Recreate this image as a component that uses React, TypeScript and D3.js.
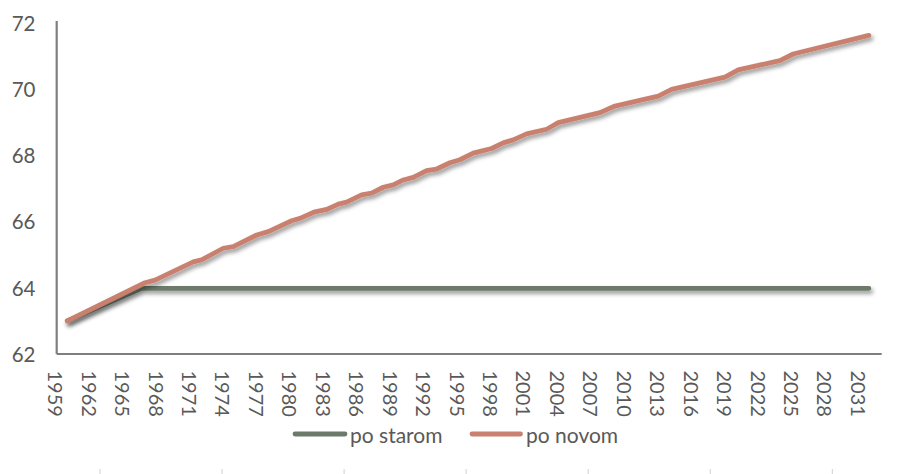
import React from "react";
import * as d3 from "d3";

const yTicks = [62, 64, 66, 68, 70, 72];
const xTickYears = [1959, 1962, 1965, 1968, 1971, 1974, 1977, 1980, 1983, 1986, 1989, 1992, 1995, 1998, 2001, 2004, 2007, 2010, 2013, 2016, 2019, 2022, 2025, 2028, 2031];

const seriesNames = ["po starom", "po novom"];
const seriesColors = ["#6D7A6B", "#C9806E"];

const yearsStarom = [1959.95, 1966.62, 2031.85];
const valuesStarom = [63.0, 63.98, 63.98];

const yearsNovom = [
  1959.95, 1966.92, 1967.82, 1971.25, 1972.0, 1973.94, 1974.84, 1976.94, 1977.98,
  1980.08, 1980.82, 1982.17, 1983.22, 1984.26, 1985.01, 1986.35, 1987.25, 1988.29,
  1989.19, 1990.09, 1990.98, 1992.18, 1993.08, 1994.27, 1995.17, 1996.36, 1998.01,
  1999.05, 1999.95, 2001.15, 2002.95, 2003.99, 2007.73, 2009.08, 2012.96, 2014.16,
  2018.94, 2020.13, 2023.87, 2025.06, 2031.85,
];
const valuesNovom = [
  63.0, 64.15, 64.23, 64.78, 64.84, 65.19, 65.24, 65.59, 65.69,
  66.02, 66.09, 66.29, 66.36, 66.52, 66.58, 66.8, 66.85, 67.03,
  67.1, 67.25, 67.33, 67.53, 67.58, 67.77, 67.86, 68.06, 68.2,
  68.37, 68.46, 68.64, 68.78, 68.98, 69.28, 69.48, 69.78, 69.98,
  70.35, 70.57, 70.85, 71.05, 71.61,
];

const W = 908;
const H = 474;
const left = 56.7;
const right = 881.7;
const top = 22.5;
const bottom = 354;

export default function App() {
  const x = d3.scaleLinear().domain([1959, 2033]).range([left, right]);
  const y = d3.scaleLinear().domain([62, 72]).range([bottom, top]);

  const line = d3
    .line<[number, number]>()
    .x((d) => x(d[0]))
    .y((d) => y(d[1]))
    .curve(d3.curveLinear);

  const starom: [number, number][] = yearsStarom.map((t, i) => [t, valuesStarom[i]]);
  const novom: [number, number][] = yearsNovom.map((t, i) => [t, valuesNovom[i]]);

  const font = "Lato, 'Open Sans', sans-serif";
  const textColor = "#595959";
  const axisColor = "#7F7F7F";

  const decoTicks = d3.range(7).map((i) => 100 + i * 122.05);

  return (
    <svg
      width={W}
      height={H}
      style={{ position: "absolute", left: 0, top: 0, background: "#fff" }}
    >
      <defs>
        <filter id="shadow" x="-5%" y="-20%" width="110%" height="160%">
          <feDropShadow dx="2" dy="3" stdDeviation="2" floodColor="#000" floodOpacity="0.42" />
        </filter>
      </defs>
      <rect width={W} height={H} fill="#fff" />

      {/* axes */}
      <line x1={left} x2={left} y1={21} y2={bottom} stroke={axisColor} strokeWidth={2.2} />
      <line x1={left} x2={right} y1={bottom} y2={bottom} stroke={axisColor} strokeWidth={2.2} />

      {/* y labels */}
      {yTicks.map((v) => (
        <text
          key={v}
          x={35.5}
          y={y(v)}
          textAnchor="end"
          dominantBaseline="central"
          fontFamily={font}
          fontSize={20.5}
          fill={textColor}
        >
          {v}
        </text>
      ))}

      {/* x labels */}
      {xTickYears.map((yr) => (
        <text
          key={yr}
          transform={`translate(${x(yr) - 0.5},${370.5}) rotate(90)`}
          textAnchor="start"
          dominantBaseline="central"
          fontFamily={font}
          fontSize={20}
          fill={textColor}
        >
          {yr}
        </text>
      ))}

      {/* series */}
      <path
        d={line(starom) || ""}
        fill="none"
        stroke={seriesColors[0]}
        strokeWidth={4.8}
        strokeLinecap="round"
        strokeLinejoin="round"
        filter="url(#shadow)"
      />
      <path
        d={line(novom) || ""}
        fill="none"
        stroke={seriesColors[1]}
        strokeWidth={4.8}
        strokeLinecap="round"
        strokeLinejoin="round"
        filter="url(#shadow)"
      />

      {/* legend */}
      <line x1={295} x2={345} y1={434} y2={434} stroke={seriesColors[0]} strokeWidth={4.8} strokeLinecap="round" />
      <text x={350} y={434} dominantBaseline="central" fontFamily={font} fontSize={21} fill={textColor}>
        {seriesNames[0]}
      </text>
      <line x1={472} x2={520.5} y1={434} y2={434} stroke={seriesColors[1]} strokeWidth={4.8} strokeLinecap="round" />
      <text x={526} y={434} dominantBaseline="central" fontFamily={font} fontSize={21} fill={textColor}>
        {seriesNames[1]}
      </text>

      {/* faint marks at bottom */}
      {decoTicks.map((t, i) => (
        <line key={i} x1={t} x2={t} y1={469} y2={474} stroke="#D0D0D0" strokeWidth={1} />
      ))}
    </svg>
  );
}
